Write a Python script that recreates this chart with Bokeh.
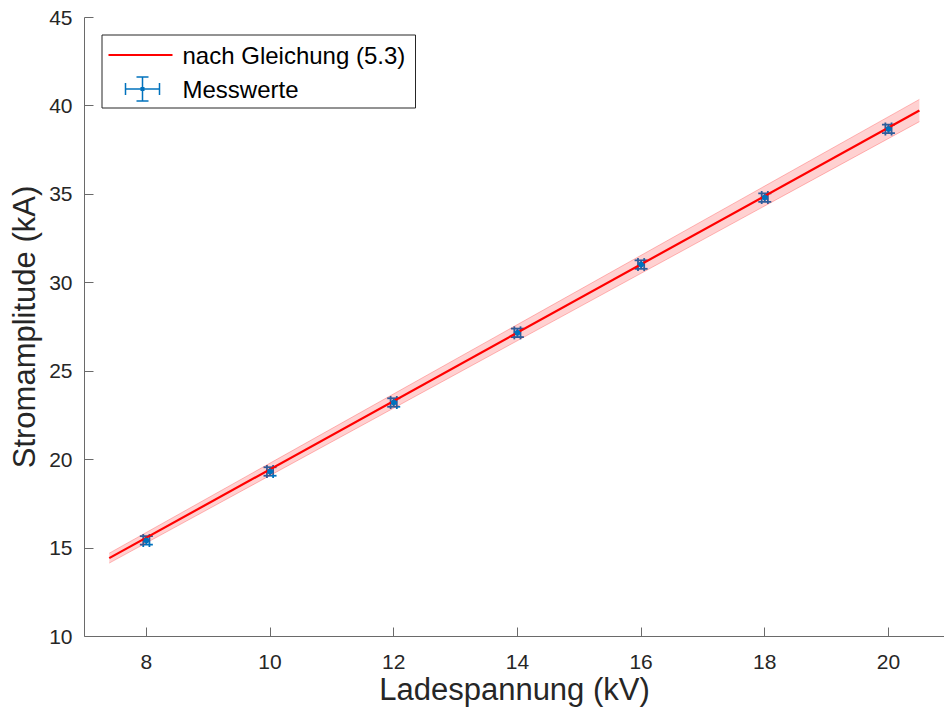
from bokeh.plotting import figure
from bokeh.models import (Range1d, FixedTicker, Whisker, TeeHead, Label,
                          BoxAnnotation, ColumnDataSource)
from bokeh.embed import file_html
from bokeh.resources import INLINE

# Measured peak current vs. charging voltage
voltage_kv = [8, 10, 12, 14, 16, 18, 20]
current_ka = [15.43, 19.33, 23.23, 27.17, 31.03, 34.82, 38.70]
voltage_err = [0.05] * 7
current_err = [0.24] * 7

# Model curve from equation (5.3) with its uncertainty band
model_kv = [7.4, 20.5]
model_ka = [14.43, 39.74]
model_lo = [14.15, 39.11]
model_hi = [14.71, 40.37]

x_ticks = [8, 10, 12, 14, 16, 18, 20]
y_ticks = [10, 15, 20, 25, 30, 35, 40, 45]

FONT = "Liberation Sans"
BLUE = "#0072BD"
RED = "#FF0000"
W, H = 944, 715
FL, FT, FB = 84, 17, 636  # frame left / top / bottom on the canvas

p = figure(width=W, height=H, x_range=Range1d(7, 20.906), y_range=Range1d(10, 45),
           output_backend="svg", toolbar_location=None,
           min_border_left=FL, min_border_top=FT, min_border_bottom=H - FB,
           min_border_right=0)
p.outline_line_color = None
p.grid.visible = False
p.background_fill_color = "white"
p.border_fill_color = "white"

for ax in (p.xaxis[0], p.yaxis[0]):
    ax.axis_line_color = "#6a6a6a"
    ax.axis_line_width = 1
    ax.major_tick_line_color = "#6a6a6a"
    ax.major_tick_in = 9
    ax.major_tick_out = 0
    ax.minor_tick_line_color = None
    ax.major_label_text_font = FONT
    ax.major_label_text_font_size = "21px"
    ax.major_label_text_color = "#262626"
    ax.axis_label_text_font = FONT
    ax.axis_label_text_font_size = "31px"
    ax.axis_label_text_font_style = "normal"
    ax.axis_label_text_color = "#262626"

p.xaxis.ticker = FixedTicker(ticks=x_ticks)
p.yaxis.ticker = FixedTicker(ticks=y_ticks)
p.xaxis.axis_label = "Ladespannung (kV)"
p.yaxis.axis_label = "Stromamplitude (kA)"
p.xaxis.major_label_standoff = 18
p.xaxis.axis_label_standoff = 0
p.yaxis.major_label_standoff = 12
p.yaxis.axis_label_standoff = 4

# uncertainty band and model line
p.varea(x=model_kv, y1=model_lo, y2=model_hi, fill_color=RED, fill_alpha=0.18)
p.line(model_kv, model_lo, line_color=RED, line_alpha=0.25, line_width=1)
p.line(model_kv, model_hi, line_color=RED, line_alpha=0.25, line_width=1)
p.line(model_kv, model_ka, line_color=RED, line_width=2.2)

# measurements with error bars
src = ColumnDataSource(dict(
    x=voltage_kv, y=current_ka,
    x_lo=[v - e for v, e in zip(voltage_kv, voltage_err)],
    x_hi=[v + e for v, e in zip(voltage_kv, voltage_err)],
    y_lo=[c - e for c, e in zip(current_ka, current_err)],
    y_hi=[c + e for c, e in zip(current_ka, current_err)],
))
for dim, base, lo, hi in (("height", "x", "y_lo", "y_hi"),
                          ("width", "y", "x_lo", "x_hi")):
    p.add_layout(Whisker(source=src, base=base, lower=lo, upper=hi, dimension=dim,
                         line_color=BLUE, line_width=1.8,
                         upper_head=TeeHead(size=13, line_color=BLUE, line_width=1.8),
                         lower_head=TeeHead(size=13, line_color=BLUE, line_width=1.8)))
p.scatter("x", "y", source=src, size=5, color=BLUE)


# legend drawn in screen space (canvas pixel positions converted to frame units)
def sbox(x0, x1, y0, y1, fill, line=None, lw=1):
    return BoxAnnotation(left=x0 - FL, right=x1 - FL, top=FB - y0, bottom=FB - y1,
                         left_units="screen", right_units="screen",
                         top_units="screen", bottom_units="screen",
                         fill_color=fill, fill_alpha=1,
                         line_color=line, line_width=lw, line_alpha=1 if line else 0)


p.add_layout(sbox(101.5, 415, 34.5, 107.5, "white", "#262626", 1))
p.add_layout(sbox(108, 172, 53.5, 55.5, RED))
cx, cy = 142, 88.5
p.add_layout(sbox(cx - 17, cx + 17, cy - 0.75, cy + 0.75, BLUE))
p.add_layout(sbox(cx - 0.75, cx + 0.75, cy - 12, cy + 12, BLUE))
p.add_layout(sbox(cx - 17.75, cx - 16.25, cy - 6, cy + 6, BLUE))
p.add_layout(sbox(cx + 16.25, cx + 17.75, cy - 6, cy + 6, BLUE))
p.add_layout(sbox(cx - 6, cx + 6, cy - 12.75, cy - 11.25, BLUE))
p.add_layout(sbox(cx - 6, cx + 6, cy + 11.25, cy + 12.75, BLUE))
p.add_layout(sbox(cx - 2, cx + 2, cy - 2, cy + 2, BLUE))
for text, ty in (("nach Gleichung (5.3)", 55), ("Messwerte", 89)):
    p.add_layout(Label(x=182 - FL, y=FB - ty, x_units="screen", y_units="screen",
                       text=text, text_baseline="middle", text_align="left",
                       text_font=FONT, text_font_size="24px", text_color="black"))

open("out.html", "w").write(file_html(p, INLINE))
